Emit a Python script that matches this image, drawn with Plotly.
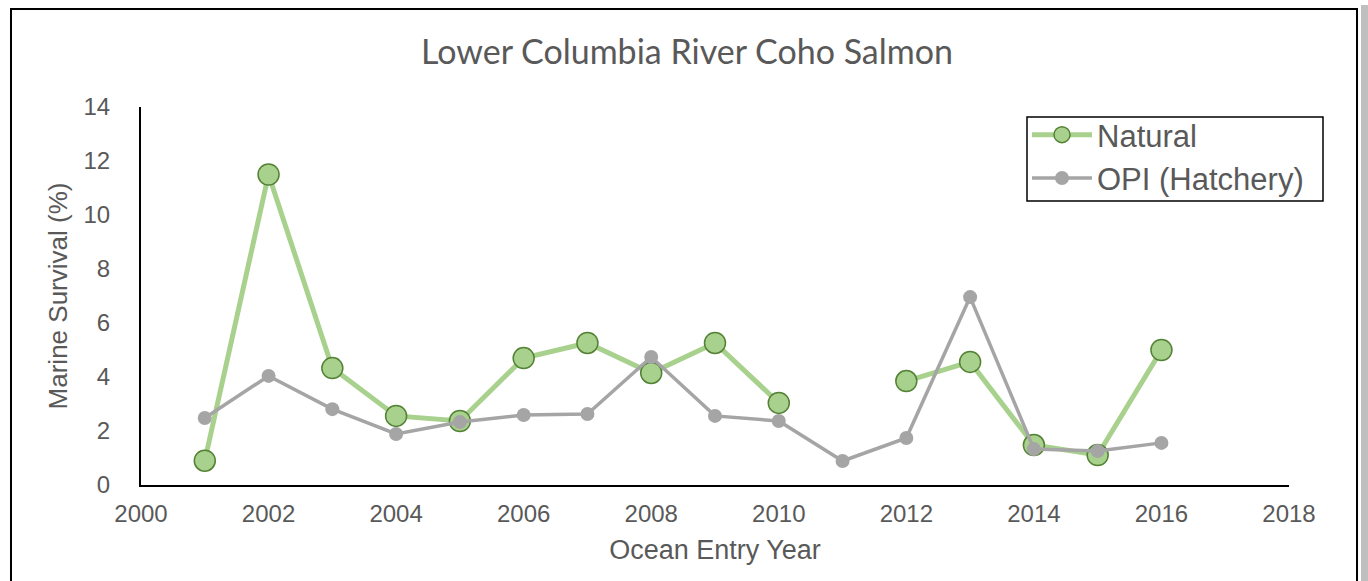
import plotly.graph_objects as go

years = list(range(2001, 2017))
natural = [0.9, 11.5, 4.33, 2.56, 2.37, 4.7, 5.26, 4.15, 5.26, 3.04, None, 3.85, 4.56, 1.48, 1.11, 5.0]
opi = [2.48, 4.04, 2.81, 1.89, 2.33, 2.59, 2.63, 4.74, 2.56, 2.37, 0.89, 1.74, 6.96, 1.33, 1.26, 1.56]
x_ticks = list(range(2000, 2019, 2))
y_ticks = list(range(0, 15, 2))

fig = go.Figure()
fig.add_trace(go.Scatter(
    x=years, y=natural, name="Natural", mode="lines+markers", connectgaps=False,
    line=dict(color="#a9d18e", width=5),
    marker=dict(size=21, color="#a9d18e", line=dict(color="#548235", width=1.5)),
))
fig.add_trace(go.Scatter(
    x=years, y=opi, name="OPI (Hatchery)", mode="lines+markers",
    line=dict(color="#a5a5a5", width=3.5),
    marker=dict(size=14, color="#a5a5a5"),
))

L, R, T, B = 141, 79, 107, 96
W, H = 1368, 581
pw, ph = W - L - R, H - T - B

def px(xp):
    return (xp - L) / pw

def py(yp):
    return (H - B - yp) / ph

fig.update_layout(
    width=W, height=H,
    margin=dict(l=L, r=R, t=T, b=B),
    paper_bgcolor="white", plot_bgcolor="white",
    title=dict(text="Lower Columbia River Coho Salmon", x=px(687), xref="paper", xanchor="center",
               y=1 - 52 / H, yanchor="middle",
               font=dict(family="Lato", size=34, color="#595959")),
    font=dict(family="Liberation Sans, Arial", color="#595959"),
    xaxis=dict(range=[2000, 2018], tickvals=x_ticks, showgrid=False, zeroline=False,
               showline=True, linecolor="black", linewidth=2, ticks="",
               tickfont=dict(size=24, color="#595959"), ticklabelstandoff=6,
               title=dict(text="Ocean Entry Year", font=dict(size=27, color="#595959"), standoff=14)),
    yaxis=dict(range=[0, 14], tickvals=y_ticks, showgrid=False, zeroline=False,
               showline=True, linecolor="black", linewidth=2, ticks="",
               tickfont=dict(size=24, color="#595959"), ticklabelstandoff=24,
               title=dict(text="Marine Survival (%)", font=dict(size=26, color="#595959"), standoff=8)),
    legend=dict(x=px(1027), y=py(108), xanchor="left", yanchor="top",
                borderwidth=0, bgcolor="rgba(0,0,0,0)",
                font=dict(size=31, color="#595959"), tracegroupgap=0,
                itemwidth=60),
    showlegend=True,
    shapes=[
        dict(type="rect", xref="paper", yref="paper",
             x0=px(11), x1=px(1357), y0=py(595), y1=py(9),
             line=dict(color="black", width=2), layer="below"),
        dict(type="rect", xref="paper", yref="paper",
             x0=px(1361), x1=px(1370), y0=py(595), y1=py(5),
             line=dict(width=0), fillcolor="#bfbfbf", layer="below"),
        dict(type="rect", xref="paper", yref="paper",
             x0=px(1027), x1=px(1323), y0=py(201), y1=py(117),
             line=dict(color="black", width=1.5), fillcolor="white", layer="above"),
    ],
)

fig.write_html("out.html")
